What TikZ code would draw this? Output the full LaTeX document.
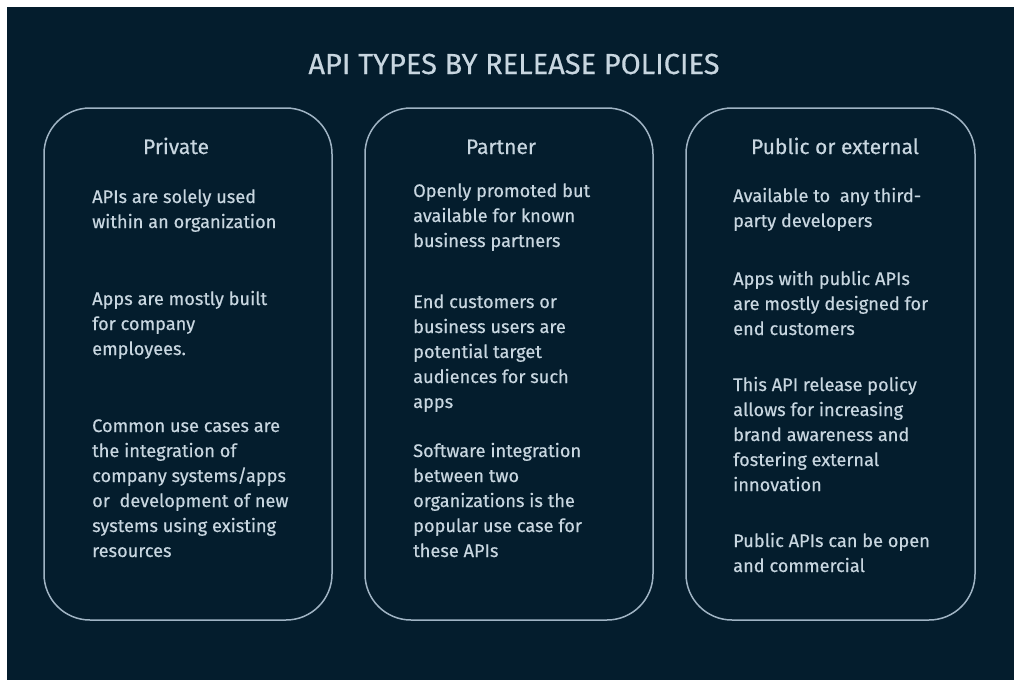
\documentclass[tikz,border=0pt]{standalone}
\usepackage{fontspec}
\setmainfont{Fira Sans}[FakeBold=0.4]
\definecolor{bgnavy}{RGB}{4,29,45}
\definecolor{txtc}{RGB}{200,214,224}
\definecolor{edgec}{RGB}{160,180,196}
\begin{document}
\begin{tikzpicture}[x=1pt,y=-1pt,
  panel/.style={draw=edgec,line width=1.5pt,rounded corners=46pt,minimum width=288pt,minimum height=512pt,inner sep=0pt},
  title/.style={text=txtc,font=\fontsize{29}{32}\selectfont,anchor=base,inner sep=0pt},
  head/.style={text=txtc,font=\fontsize{21}{24}\selectfont,anchor=base,inner sep=0pt},
  body/.style={text=txtc,font=\fontsize{18.2}{25}\selectfont,anchor=base west,align=left,inner sep=0pt}]
\useasboundingbox (0,0) rectangle (1014,680);
\fill[white] (0,0) rectangle (1014,680);
\fill[bgnavy] (7,7) rectangle (1014,680);
\node[title] (t) at (514,74) {API TYPES BY RELEASE POLICIES};
\node[panel] (p1) at (188,364) {};
\node[panel] (p2) at (509,364) {};
\node[panel,minimum width=289pt] (p3) at (830.5,364) {};
\node[head] (h1) at (176,154) {Private};
\node[head] (h2) at (501,154) {Partner};
\node[head] (h3) at (835,154) {Public or external};
% body nodes: anchor is the baseline of the last line
\node[body] (a1) at (92,228) {APIs are solely used\\within an organization};
\node[body] (a2) at (92,355) {Apps are mostly built\\for company\\employees.};
\node[body] (a3) at (92,557) {Common use cases are\\the integration of\\company systems/apps\\or\ \ development of new\\systems using existing\\resources};
\node[body] (b1) at (413,247) {Openly promoted but\\available for known\\business partners};
\node[body] (b2) at (413,408) {End customers or\\business users are\\potential target\\audiences for such\\apps};
\node[body] (b3) at (413,557) {Software integration\\between two\\organizations is the\\popular use case for\\these APIs};
\node[body] (c1) at (733,227) {Available to\ \ any third-\\party developers};
\node[body] (c2) at (733,335) {Apps with public APIs\\are mostly designed for\\end customers};
\node[body] (c3) at (733,491) {This API release policy\\allows for increasing\\brand awareness and\\fostering external\\innovation};
\node[body] (c4) at (733,572) {Public APIs can be open\\and commercial};
\end{tikzpicture}
\end{document}
